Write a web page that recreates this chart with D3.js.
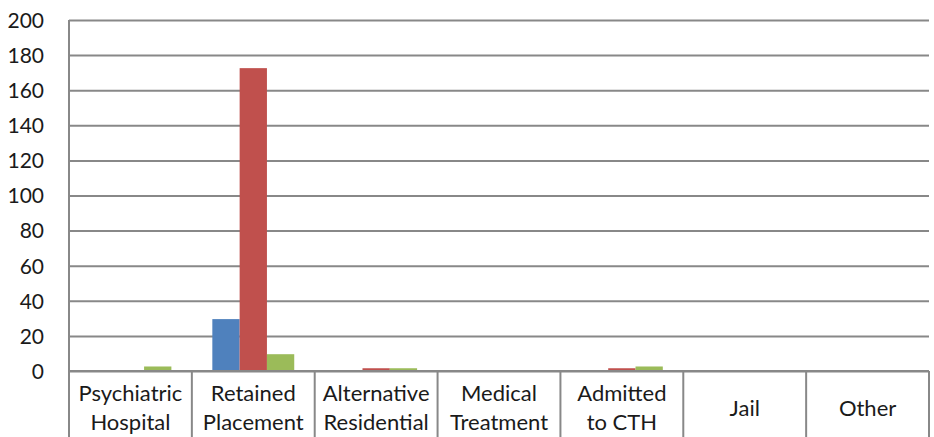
<!DOCTYPE html>
<html lang="en">
<head>
    <meta charset="UTF-8">
    <title>outcome-bars</title>
    <style>
        body { margin: 0; background: #fff; }
        text { font-family: Lato, "Open Sans", sans-serif; fill: #1a1a1a; }
    </style>
    <script src="https://d3js.org/d3.v7.min.js"></script>
</head>
<body>
<script>

    // categories (line breaks as in the original axis)
    let categories = ["Psychiatric\nHospital", "Retained\nPlacement", "Alternative\nResidential",
        "Medical\nTreatment", "Admitted\nto CTH", "Jail", "Other"]
    let seriesNames = ["Series 1", "Series 2", "Series 3"]
    let series1 = [0, 29, 0, 0, 0, 0, 0]
    let series2 = [0, 172, 1, 0, 1, 0, 0]
    let series3 = [2, 9, 1, 0, 2, 0, 0]
    let yTicks = [0, 20, 40, 60, 80, 100, 120, 140, 160, 180, 200]
    let colors = ["#4F81BD", "#C0504D", "#9BBB59"]

    let width = 934, height = 437
    let margin = {top: 20, right: 5, bottom: 66, left: 69}
    let gridColor = "#888888"

    let svg = d3.select("body").append("svg")
        .attr("width", width).attr("height", height)

    let x0 = d3.scaleBand()
        .domain(categories)
        .range([margin.left, width - margin.right])
        .padding(0)

    let x1 = d3.scaleBand()
        .domain(seriesNames)
        .range([0, x0.bandwidth()])
        .paddingInner(0)
        .paddingOuter(0.75)

    let y = d3.scaleLinear()
        .domain([0, 200])
        .range([height - margin.bottom, margin.top])

    let table = categories.map(function (c, i) {
        return {cat: c, values: [series1[i], series2[i], series3[i]]}
    })

    // gridlines + y labels
    let yAxis = svg.append("g")
        .attr("transform", "translate(" + margin.left + ",0)")
        .call(d3.axisLeft(y).tickValues(yTicks).tickSize(-(width - margin.left - margin.right)).tickPadding(24))
    yAxis.select(".domain").remove()
    yAxis.selectAll("line").attr("stroke", gridColor).attr("stroke-width", 2)
    yAxis.selectAll("text")
        .style("font-size", "21px")
        .attr("x", -25)
        .attr("dy", "0.35em")
        .style("fill", "#1a1a1a")

    // bars
    svg.append("g")
        .selectAll("g")
        .data(table)
        .enter()
        .append("g")
        .attr("transform", function (d) { return "translate(" + x0(d.cat) + ",0)" })
        .selectAll("rect")
        .data(function (d) { return d.values.map(function (v, i) { return {name: seriesNames[i], v: v, i: i} }) })
        .enter()
        .append("rect")
        .attr("x", function (d) { return x1(d.name) })
        .attr("width", x1.bandwidth())
        .attr("y", function (d) { return y(d.v) - 1 })
        .attr("height", function (d) { return d.v > 0 ? y(0) - y(d.v) : 0 })
        .attr("fill", function (d) { return colors[d.i] })

    // zero line, left axis line, category dividers
    let base = y(0)
    svg.append("line")
        .attr("x1", margin.left).attr("x2", width - margin.right)
        .attr("y1", base).attr("y2", base)
        .attr("stroke", gridColor).attr("stroke-width", 2)
    svg.append("line")
        .attr("x1", margin.left).attr("x2", margin.left)
        .attr("y1", margin.top).attr("y2", height)
        .attr("stroke", gridColor).attr("stroke-width", 2)

    let bounds = categories.map(function (c) { return x0(c) }).slice(1)
    bounds.push(x0.range()[1])
    svg.append("g")
        .selectAll("line")
        .data(bounds)
        .enter()
        .append("line")
        .attr("x1", function (d) { return d }).attr("x2", function (d) { return d })
        .attr("y1", base).attr("y2", height)
        .attr("stroke", gridColor).attr("stroke-width", 2)

    // category labels
    let labels = svg.append("g")
        .selectAll("text")
        .data(categories)
        .enter()
        .append("text")
        .attr("text-anchor", "middle")
        .style("font-size", "22px")
        .attr("transform", function (d) { return "translate(" + (x0(d) + x0.bandwidth() / 2) + ",0)" })

    labels.each(function (d) {
        let lines = d.split("\n")
        let t = d3.select(this)
        if (lines.length === 1) {
            t.append("tspan").attr("x", 0).attr("y", 416).text(lines[0])
        } else {
            t.append("tspan").attr("x", 0).attr("y", 401).text(lines[0])
            t.append("tspan").attr("x", 0).attr("y", 430).text(lines[1])
        }
    })

</script>
</body>
</html>
